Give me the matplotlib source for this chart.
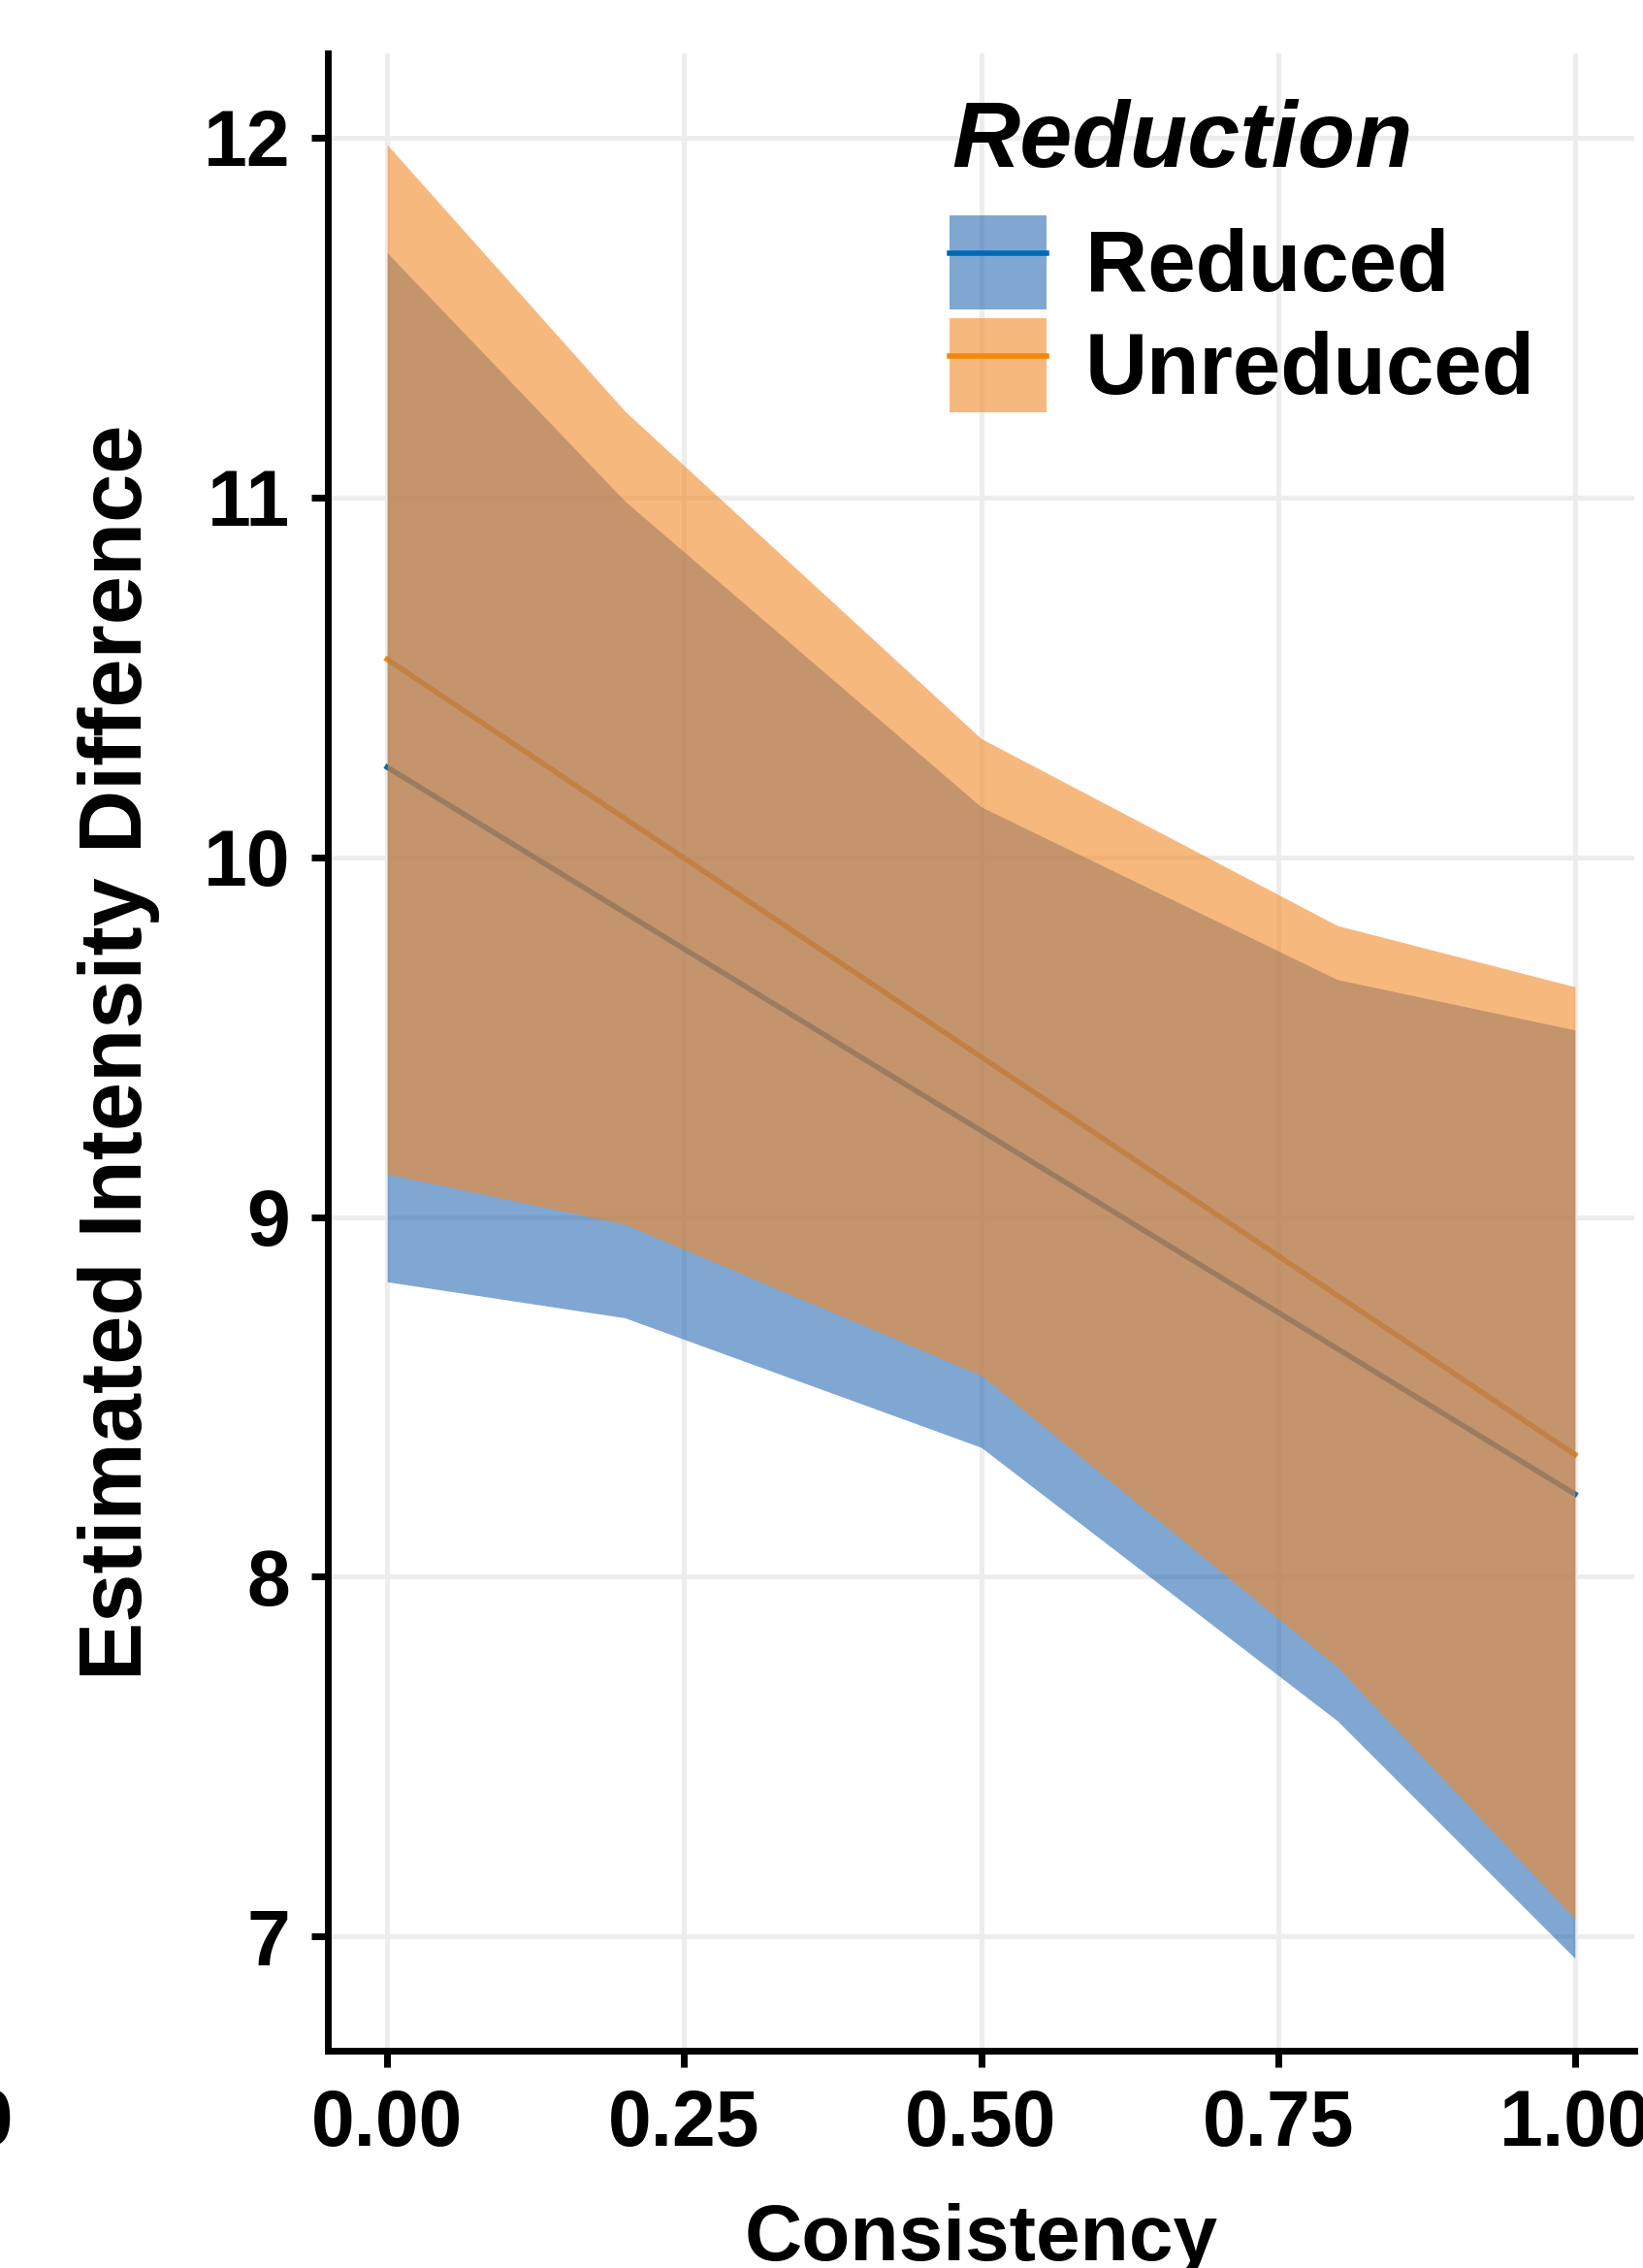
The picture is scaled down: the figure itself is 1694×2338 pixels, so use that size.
import matplotlib
matplotlib.use("Agg")
import matplotlib.pyplot as plt
from matplotlib.patches import Patch
from matplotlib.lines import Line2D

plt.rcParams['font.family'] = ['Liberation Sans', 'DejaVu Sans']
plt.rcParams['font.weight'] = 'bold'

# valores
consistency = [0.0, 0.2, 0.5, 0.8, 1.0]
reduced_lo = [8.82, 8.72, 8.36, 7.60, 6.94]
reduced_hi = [11.68, 10.99, 10.14, 9.66, 9.52]
unreduced_lo = [9.12, 8.98, 8.56, 7.75, 7.05]
unreduced_hi = [11.98, 11.24, 10.33, 9.81, 9.64]

fit_x = [0.0, 1.0]
reduced_fit = [10.25, 8.23]
unreduced_fit = [10.55, 8.34]

grupos = ["Reduced", "Unreduced"]
cor_faixa = {"Reduced": "#2a6cb4", "Unreduced": "#f38928"}
cor_linha = {"Reduced": "#0068b5", "Unreduced": "#f5870a"}

fig = plt.figure(figsize=(8.47, 11.69), dpi=200)
ax = fig.add_axes([338/1694, 1 - 2114/2338, (1685-338)/1694, (2114-55)/2338])

# as linhas ficam por baixo das faixas, como no original
ax.plot(fit_x, reduced_fit, color=cor_linha["Reduced"], lw=2.0, zorder=1)
ax.plot(fit_x, unreduced_fit, color=cor_linha["Unreduced"], lw=2.0, zorder=1)
ax.fill_between(consistency, reduced_lo, reduced_hi, color=cor_faixa["Reduced"],
                alpha=0.6, lw=0, zorder=2)
ax.fill_between(consistency, unreduced_lo, unreduced_hi, color=cor_faixa["Unreduced"],
                alpha=0.6, lw=0, zorder=3)

ax.set_xlim(-0.05, 1.05)
ax.set_ylim(6.683, 12.234)
ax.set_xticks([0, 0.25, 0.5, 0.75, 1.0])
ax.set_xticklabels(["0.00", "0.25", "0.50", "0.75", "1.00"])
ax.set_yticks([7, 8, 9, 10, 11, 12])

ax.grid(True, color="#ededed", lw=1.8, zorder=0)
ax.set_axisbelow(True)
for s in ["top", "right"]:
    ax.spines[s].set_visible(False)
for s in ["left", "bottom"]:
    ax.spines[s].set_linewidth(2.5)
ax.tick_params(axis="both", length=6, width=2.5, pad=8, labelsize=29)

ax.set_xlabel("Consistency", fontsize=29.5, fontweight="bold", labelpad=15)
ax.set_ylabel("Estimated Intensity Difference", fontsize=32.5, fontweight="bold", labelpad=16)

handles = [(Patch(facecolor=cor_faixa[g], alpha=0.6, lw=0),
            Line2D([], [], color=cor_linha[g], lw=2.0)) for g in grupos]
leg = ax.legend(handles, grupos, loc="upper left", bbox_to_anchor=(979/1694, 1 - 222/2338),
                bbox_transform=fig.transFigure, frameon=False, fontsize=32,
                handlelength=1.12, handleheight=1.3, handletextpad=0.45, labelspacing=0.1,
                borderpad=0, borderaxespad=0)
fig.text(981/1694, 1 - 172/2338, "Reduction", ha="left", va="baseline",
         fontsize=35, fontweight="bold", fontstyle="italic")

# pedaço do rótulo do painel vizinho, cortado na borda
fig.text(14/1694, 1 - 2211/2338, "1.00", ha="right", va="baseline", fontsize=29, fontweight="bold")

fig.savefig("out.png", dpi=200)
